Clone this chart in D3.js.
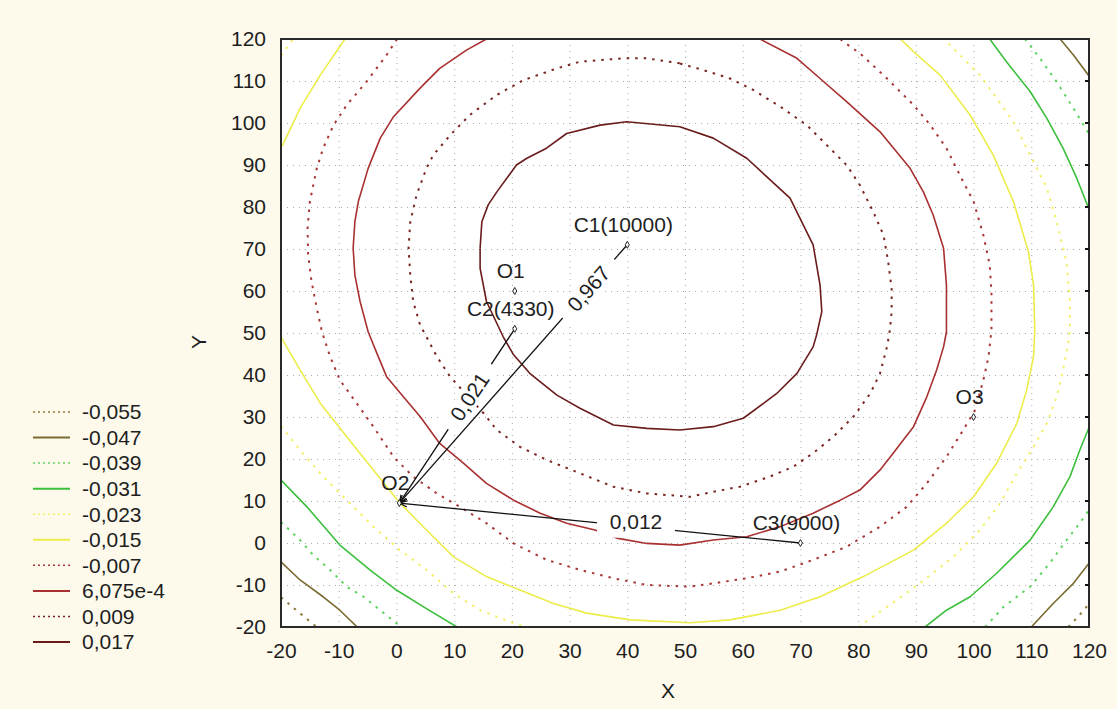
<!DOCTYPE html>
<html>
<head>
<meta charset="utf-8">
<script src="https://cdn.jsdelivr.net/npm/d3@7"></script>
<style>
  body { margin: 0; background: #fdfaec; }
  text { font-family: "Liberation Sans", Arial, sans-serif; fill: #1e1e1e; }
</style>
</head>
<body>
<div id="chart"></div>
<script>
// contour levels, legend order (top to bottom)
const levelLabels = ["-0,055", "-0,047", "-0,039", "-0,031", "-0,023", "-0,015", "-0,007", "6,075e-4", "0,009", "0,017"];
const levelColors = ["#8a7a3c", "#7a6a30", "#5fd35f", "#3cbf3c", "#f2f06a", "#ecec4a", "#a83636", "#a83030", "#7a2424", "#6a1c1c"];
const levelDotted = [true, false, true, false, true, false, true, false, true, false];

const xTicks = [-20, -10, 0, 10, 20, 30, 40, 50, 60, 70, 80, 90, 100, 110, 120];
const yTicks = [-20, -10, 0, 10, 20, 30, 40, 50, 60, 70, 80, 90, 100, 110, 120];

// contour polylines, [x, y] in data units
const lineM055 = [
  [[-20, -12.9], [-17, -16.4], [-13.8, -20]],
  [[116.4, -20], [118.4, -17.1], [120, -14.5]]
];
const lineM047 = [
  [[-20, -4.5], [-16.7, -8.8], [-12.7, -12.8], [-9.8, -16], [-6.8, -20]],
  [[110, -20], [113.8, -14.4], [117.3, -9.6], [120, -4.8]],
  [[115, 120], [117.3, 116.2], [120, 111.2]]
];
const lineM039 = [
  [[-20, 5], [-16.7, 0.7], [-14.4, -2.9], [-11.5, -6.4], [-8.6, -10.4], [-5.7, -12.8], [-2.8, -16], [0.8, -20]],
  [[102, -20], [105.2, -15.2], [109.8, -10.4], [113.2, -4.8], [116.1, 0.7], [118.4, 4.7], [120, 7.9]],
  [[108.9, 120], [111.5, 115.4], [114.4, 109.8], [117.3, 103.5], [120, 97.4]]
];
const lineM031 = [
  [[-20, 15], [-15.5, 8.6], [-9.8, -0.5], [-4.6, -6.4], [0, -11.2], [4.7, -15.2], [10.5, -20]],
  [[91.6, -20], [95.3, -16], [99.4, -12.8], [104, -7.2], [109.8, 0.7], [113.8, 8.6], [116.7, 15.8], [118.4, 22.1], [120, 27.5]],
  [[102.8, 120], [105.7, 114.6], [109.8, 107.5], [112.7, 101.1], [115.5, 94], [117.9, 86.8], [120, 79.5]]
];
const lineM023 = [
  [[-20, 116], [-17.9, 120]],
  [[-20, 27.9], [-16.7, 22.1], [-13.2, 16.6], [-8.6, 10.2], [-4, 3.9], [0.6, -1.7], [5.2, -6.4], [9.9, -12], [14.5, -16], [20.3, -19.1], [22.3, -20]],
  [[80, -20], [85, -15.2], [90.7, -9.6], [96.5, -3.3], [101.1, 3.1], [104.6, 9.5], [107.5, 16.6], [110.4, 22.9], [112.7, 28.5], [114.4, 34.8], [115.5, 41.2], [116.4, 47.5], [116.7, 50.7], [116.7, 57.5], [116.1, 67], [114.4, 76.5], [112.7, 84.5], [109.8, 92.4], [106.9, 100.3], [104, 105.9], [101.1, 111.4], [98.2, 115.4], [95.3, 119.4], [94.9, 120]]
];
const lineM015 = [
  [[-20, 94.3], [-19.7, 94.8], [-16.7, 103.5], [-13.2, 111.4], [-8.9, 120]],
  [[-20, 49], [-16.7, 41.2], [-13.2, 33.3], [-8.6, 25.3], [-4, 17.4], [0.6, 9.5], [5.2, 3.1], [9.9, -3.3], [15.6, -8], [21.4, -11.2], [27.2, -14.4], [33, -16.7], [40.5, -18.3], [50.9, -19], [57.8, -18.3], [66.5, -16], [73.4, -12.8], [80.9, -8], [89.6, -1.7], [95.3, 4.7], [100, 11], [104, 19], [107.5, 28.5], [109.2, 36.4], [110.4, 44.4], [110.6, 50.7], [110.4, 61.4], [109.5, 69.4], [106.9, 81.3], [103.4, 92.4], [99.4, 101.9], [94.2, 111.4], [89.6, 117], [87.3, 120]]
];
const lineM007 = [
  [[0.1, 120], [-1.7, 116.2], [-5.2, 109.8], [-8.6, 104.3], [-10.9, 99.5], [-12.7, 94], [-13.8, 89.2], [-15, 81.3], [-15.4, 74.9], [-15.3, 68.6], [-14.7, 62.2], [-13.8, 55.9], [-12.9, 50.3], [-11.5, 44.4], [-9.8, 38.8], [-6.9, 33.3], [-4, 27.7], [-0.5, 20.5], [2.9, 15.8], [7, 11.8], [11, 8.6], [15.6, 4.7], [20.3, -0.1], [26, -4], [31.8, -6.4], [37.6, -8.4], [43.4, -10], [50.9, -10.4], [54.9, -9.6], [60.7, -8.4], [66.5, -6.8], [72.2, -4], [78, -0.9], [83.8, 3.9], [88.4, 8.6], [91.9, 14.2], [95.3, 20.5], [98.2, 26.9], [100.2, 31.5], [101.7, 38.8], [102.6, 44.4], [103.1, 50.7], [103.1, 59.8], [102.8, 66.2], [101.7, 73.3], [100, 81.3], [98.2, 86], [95.3, 94], [92.5, 99.5], [89.6, 104.3], [85, 110.6], [80.3, 116.6], [77.4, 119.4], [76.9, 120]]
];
const lineP0006 = [
  [[15.6, 120], [12.2, 117.4], [7.5, 113], [4.1, 108.3], [-0.5, 101.5], [-2.8, 96.4], [-4.9, 89.2], [-6.6, 81.3], [-7.2, 76.5], [-7.5, 70.2], [-7.2, 63.8], [-6.3, 57.5], [-4.9, 50.3], [-3.4, 45.2], [-1.7, 39.6], [1.2, 34.8], [4.1, 30.1], [7.5, 23.7], [11.6, 19], [15.6, 14.2], [20.3, 10.2], [24.9, 7.1], [29.5, 4.7], [34.4, 3.1], [38.4, 1.1], [43.4, -0.1], [49.1, -0.5], [54.9, 0.7], [60.7, 1.5], [66.5, 3.9], [72.2, 7.1], [76.9, 10.2], [80.3, 12.6], [83.8, 17.4], [86.1, 21.4], [89.6, 27.7], [91.9, 34.8], [93.6, 41.2], [94.8, 46.7], [95.3, 50.3], [95.3, 61.4], [94.8, 70.2], [93, 78.1], [91.3, 83.6], [89, 89.2], [83.8, 97.9], [78, 105.1], [73.4, 110.6], [69.4, 115.4], [63, 120]]
];
const lineP009 = [
  [[49.1, 114.2], [43.4, 115.4], [39.3, 115.4], [31.8, 114.6], [27.8, 113], [22, 110.2], [17.4, 106.7], [12.7, 101.9], [9.3, 97.1], [6.4, 92.4], [5.2, 89.2], [3.5, 82.9], [2.4, 76.5], [2.1, 70.2], [2.4, 63.8], [2.9, 57.5], [4.1, 51.9], [5.2, 49.1], [7, 44.4], [9.3, 39.6], [12.2, 35.2], [15.1, 30.9], [17.4, 26.9], [21.4, 22.9], [26, 19.8], [31.8, 16.6], [37.6, 13.4], [43.4, 11.8], [50.9, 11], [54.9, 12.2], [59.5, 13.4], [64.7, 15.8], [68.8, 18.2], [72.2, 21.4], [75.7, 25.3], [79.2, 30.1], [82.1, 35.6], [83.8, 40.4], [85, 46.7], [85.5, 50.7], [85.8, 55.1], [85.8, 60.6], [85.2, 67], [84.4, 73.3], [82.6, 78.9], [80.3, 85.2], [78, 90], [74, 95.5], [71.1, 99.5], [66.5, 103.9], [61.8, 107.9], [57.8, 110.6], [53.2, 112.6], [50, 113.8], [49.1, 114.2]]
];
const lineP017 = [
  [[14.5, 70.2], [14.8, 76.5], [15.9, 80.5], [17.4, 83.6], [20.8, 90], [22.6, 91.6], [26, 94], [29.5, 97.5], [35.3, 99.5], [39.9, 100.3], [44.5, 99.7], [49.1, 99.1], [54.9, 96.4], [60.7, 91.6], [68.2, 82.1], [72.2, 71], [73.4, 61.4], [73.7, 55.1], [72.8, 49.5], [72.2, 46.7], [69.4, 40.4], [65.9, 35.6], [60.1, 29.7], [54.9, 27.7], [49.1, 26.9], [43.4, 27.3], [37.6, 28.1], [31.8, 32.1], [27.8, 35.2], [23.1, 40.4], [20.3, 44.8], [18.5, 49.1], [15.6, 57.5], [14.5, 65.4], [14.5, 70.2]]
];
const contourLines = [lineM055, lineM047, lineM039, lineM031, lineM023, lineM015, lineM007, lineP0006, lineP009, lineP017];

// marked points
const pointNames = ["O1", "C2(4330)", "C1(10000)", "O2", "C3(9000)", "O3"];
const pointX = [20.5, 20.5, 40, 0.5, 70, 100];
const pointY = [60, 51, 71, 9.5, 0, 30];

// arrows to O2 with their labels (position along the arrow, from its start)
const linkFrom = ["C1(10000)", "C2(4330)", "C3(9000)"];
const linkTo = ["O2", "O2", "O2"];
const linkLabels = ["0,967", "0,021", "0,012"];
const linkLabelPos = [0.17, 0.39, 0.41];
const linkRotate = [true, true, false];
const linkTextShift = [0, 0, -5];

const width = 1117, height = 709;
const plotLeft = 281, plotTop = 39, plotW = 808, plotH = 588;
const fontSize = 21;

const svg = d3.select("#chart").append("svg")
  .attr("width", width)
  .attr("height", height);

const xScale = d3.scaleLinear().domain([-20, 120]).range([plotLeft, plotLeft + plotW]);
const yScale = d3.scaleLinear().domain([-20, 120]).range([plotTop + plotH, plotTop]);

svg.append("rect")
  .attr("x", plotLeft).attr("y", plotTop)
  .attr("width", plotW).attr("height", plotH)
  .attr("fill", "#ffffff");

const defs = svg.append("defs");
defs.append("clipPath").attr("id", "plotClip")
  .append("rect")
  .attr("x", plotLeft).attr("y", plotTop)
  .attr("width", plotW).attr("height", plotH);

// dotted grid
const grid = svg.append("g").attr("stroke", "#a8a8a8").attr("stroke-width", 1).attr("stroke-dasharray", "1,5");
grid.selectAll(".gx").data(xTicks.slice(1, -1)).enter().append("line")
  .attr("x1", d => xScale(d) + 0.5).attr("x2", d => xScale(d) + 0.5)
  .attr("y1", plotTop).attr("y2", plotTop + plotH);
grid.selectAll(".gy").data(yTicks.slice(1, -1)).enter().append("line")
  .attr("y1", d => yScale(d) + 0.5).attr("y2", d => yScale(d) + 0.5)
  .attr("x1", plotLeft).attr("x2", plotLeft + plotW);

// contours
const line = d3.line().x(d => xScale(d[0])).y(d => yScale(d[1]));
const contourG = svg.append("g").attr("clip-path", "url(#plotClip)").attr("fill", "none");
contourLines.forEach((segs, i) => {
  contourG.selectAll(null).data(segs).enter().append("path")
    .attr("d", line)
    .attr("stroke", levelColors[i])
    .attr("stroke-width", levelDotted[i] ? 2 : 1.6)
    .attr("stroke-dasharray", levelDotted[i] ? "2.5,6" : null)
    .attr("stroke-linejoin", "round");
});

// arrows
defs.append("marker")
  .attr("id", "arrow")
  .attr("viewBox", "0 0 10 10")
  .attr("refX", 10).attr("refY", 5)
  .attr("markerWidth", 8).attr("markerHeight", 8)
  .attr("markerUnits", "userSpaceOnUse")
  .attr("orient", "auto")
  .append("path")
  .attr("d", "M0,1 L10,5 L0,9")
  .attr("fill", "none").attr("stroke", "#111").attr("stroke-width", 1.5);

const ptIndex = name => pointNames.indexOf(name);
const linkG = svg.append("g");
linkFrom.forEach((from, i) => {
  const a = ptIndex(from), b = ptIndex(linkTo[i]);
  const x1 = xScale(pointX[a]), y1 = yScale(pointY[a]);
  const x2 = xScale(pointX[b]), y2 = yScale(pointY[b]);
  linkG.append("line")
    .attr("x1", x1).attr("y1", y1).attr("x2", x2).attr("y2", y2)
    .attr("stroke", "#111").attr("stroke-width", 1.3)
    .attr("marker-end", "url(#arrow)");
  const t = linkLabelPos[i];
  const cx = x1 + (x2 - x1) * t, cy = y1 + (y2 - y1) * t;
  let ang = Math.atan2(y2 - y1, x2 - x1) * 180 / Math.PI;
  if (ang > 90) ang -= 180;
  if (ang < -90) ang += 180;
  const lab = linkG.append("g")
    .attr("transform", `translate(${cx},${cy}) rotate(${linkRotate[i] ? ang : 0})`);
  lab.append("rect")
    .attr("x", -39).attr("y", -11).attr("width", 78).attr("height", 22)
    .attr("fill", "#ffffff");
  lab.append("text")
    .attr("text-anchor", "middle")
    .attr("y", linkTextShift[i]).attr("dy", "0.35em")
    .attr("font-size", fontSize)
    .text(linkLabels[i]);
});

// points
const ptG = svg.append("g");
pointNames.forEach((name, i) => {
  const px = xScale(pointX[i]), py = yScale(pointY[i]);
  ptG.append("path")
    .attr("d", d3.symbol(d3.symbolDiamond, 14)())
    .attr("transform", `translate(${px},${py})`)
    .attr("fill", "#ffffff").attr("stroke", "#222").attr("stroke-width", 1);
  ptG.append("text")
    .attr("x", px - 4).attr("y", py - 13)
    .attr("text-anchor", "middle")
    .attr("font-size", fontSize)
    .attr("fill", "#2a2a2a")
    .text(name);
});

// frame
svg.append("rect")
  .attr("x", plotLeft).attr("y", plotTop)
  .attr("width", plotW).attr("height", plotH)
  .attr("fill", "none").attr("stroke", "#2a2a2a").attr("stroke-width", 2);

// inner ticks on the right edge
svg.append("g").selectAll("line").data(yTicks.slice(1, -1)).enter().append("line")
  .attr("x1", plotLeft + plotW - 4).attr("x2", plotLeft + plotW)
  .attr("y1", d => yScale(d)).attr("y2", d => yScale(d))
  .attr("stroke", "#111").attr("stroke-width", 2);

// axes
const fmt = d => String(d);
const xAxis = svg.append("g")
  .attr("transform", `translate(0,${plotTop + plotH})`)
  .call(d3.axisBottom(xScale).tickValues(xTicks).tickFormat(fmt).tickSize(0).tickPadding(16));
const yAxis = svg.append("g")
  .attr("transform", `translate(${plotLeft},0)`)
  .call(d3.axisLeft(yScale).tickValues(yTicks).tickFormat(fmt).tickSize(0).tickPadding(15));
[xAxis, yAxis].forEach(ax => {
  ax.select(".domain").remove();
  ax.selectAll("text").attr("font-size", fontSize).attr("fill", "#1e1e1e")
    .style("font-family", "'Liberation Sans', Arial, sans-serif");
});

svg.append("text")
  .attr("x", 668).attr("y", 698)
  .attr("text-anchor", "middle").attr("font-size", fontSize)
  .text("X");
svg.append("text")
  .attr("transform", "translate(206,342) rotate(-90)")
  .attr("text-anchor", "middle").attr("font-size", fontSize)
  .text("Y");

// legend
const legend = svg.append("g");
const legY = d3.scaleLinear().domain([0, levelLabels.length - 1]).range([412, 642]);
levelLabels.forEach((lab, i) => {
  const gy = legY(i);
  legend.append("line")
    .attr("x1", 33).attr("x2", 70).attr("y1", gy).attr("y2", gy)
    .attr("stroke", levelColors[i])
    .attr("stroke-width", levelDotted[i] ? 1.5 : 2)
    .attr("stroke-dasharray", levelDotted[i] ? "2,3" : null);
  legend.append("text")
    .attr("x", 82).attr("y", gy).attr("dy", "0.35em")
    .attr("font-size", fontSize)
    .text(lab);
});
</script>
</body>
</html>
